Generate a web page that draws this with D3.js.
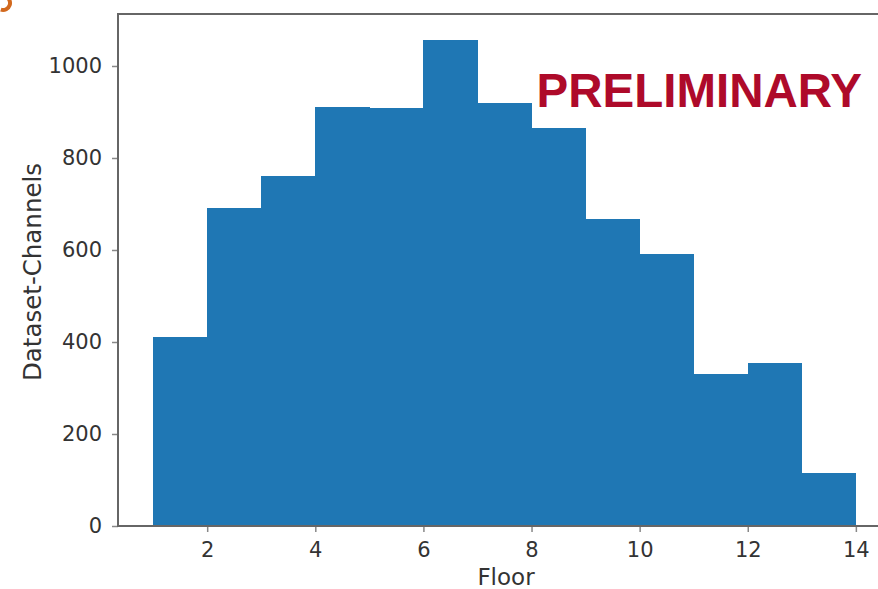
<!DOCTYPE html>
<html>
<head>
<meta charset="utf-8">
<script src="https://cdn.jsdelivr.net/npm/d3@7"></script>
<style>
  body { margin: 0; background: #fff; }
  svg text { font-family: "DejaVu Sans", sans-serif; }
</style>
</head>
<body>
<svg id="chart" width="878" height="589"></svg>
<script>
// histogram bins (floor ranges) and counts
binStarts = [1, 2, 3, 4, 5, 6, 7, 8, 9, 10, 11, 12, 13]
binEnds = [2, 3, 4, 5, 6, 7, 8, 9, 10, 11, 12, 13, 14]
counts = [410, 691, 761, 911, 909, 1057, 920, 865, 667, 591, 330, 354, 115]

xTicks = [2, 4, 6, 8, 10, 12, 14]
yTicks = [0, 200, 400, 600, 800, 1000]

var svg = d3.select("#chart")

// plot box (note: "top" is taken by window.top)
var plotL = 118, plotT = 14, plotR = 891, plotB = 526

var x = d3.scaleLinear().domain([0.35, 14.65]).range([plotL, plotR])
var y = d3.scaleLinear().domain([0, 1113]).range([plotB, plotT])

var bins = counts.map((c, i) => ({ x0: binStarts[i], x1: binEnds[i], n: c }))

svg.append("g")
    .selectAll("rect")
    .data(bins)
    .enter()
        .append("rect")
        .attr("x", d => x(d.x0))
        .attr("y", d => y(d.n))
        .attr("width", d => x(d.x1) - x(d.x0) + 0.5)
        .attr("height", d => y(0) - y(d.n))
        .attr("fill", "#1f77b4")
        .attr("shape-rendering", "crispEdges")

// axes
var xAxis = svg.append("g")
    .attr("transform", "translate(0," + plotB + ")")
    .call(d3.axisBottom(x).tickValues(xTicks).tickSize(6).tickPadding(10))

var yAxis = svg.append("g")
    .attr("transform", "translate(" + plotL + ",0)")
    .call(d3.axisLeft(y).tickValues(yTicks).tickFormat(d3.format("d")).tickSize(6).tickPadding(10))

for (var ax of [xAxis, yAxis]) {
    ax.select(".domain").remove()
    ax.selectAll("line").attr("stroke", "#888").attr("stroke-width", 1.5)
    ax.selectAll("text")
        .attr("fill", "#333")
        .style("font-size", "21px")
}

// frame
svg.append("rect")
    .attr("x", plotL).attr("y", plotT)
    .attr("width", plotR - plotL).attr("height", plotB - plotT)
    .attr("fill", "none")
    .attr("stroke", "#666")
    .attr("stroke-width", 2)

svg.append("text")
    .attr("x", 506).attr("y", 585)
    .attr("text-anchor", "middle")
    .attr("fill", "#333")
    .style("font-size", "23px")
    .text("Floor")

svg.append("text")
    .attr("transform", "translate(41,272) rotate(-90)")
    .attr("text-anchor", "middle")
    .attr("fill", "#333")
    .style("font-size", "24.5px")
    .text("Dataset-Channels")

svg.append("text")
    .attr("x", 862).attr("y", 107)
    .attr("text-anchor", "end")
    .attr("fill", "#ae0a2a")
    .style("font-family", "'Liberation Sans', Arial, sans-serif")
    .style("font-weight", "bold")
    .style("font-size", "47.5px")
    .text("PRELIMINARY")

// little orange mark in the corner
svg.append("path")
    .attr("d", d3.arc()({ innerRadius: 5, outerRadius: 9, startAngle: Math.PI * 0.1, endAngle: Math.PI * 1.1 }))
    .attr("transform", "translate(3,3)")
    .attr("fill", "#d2691e")
</script>
</body>
</html>
